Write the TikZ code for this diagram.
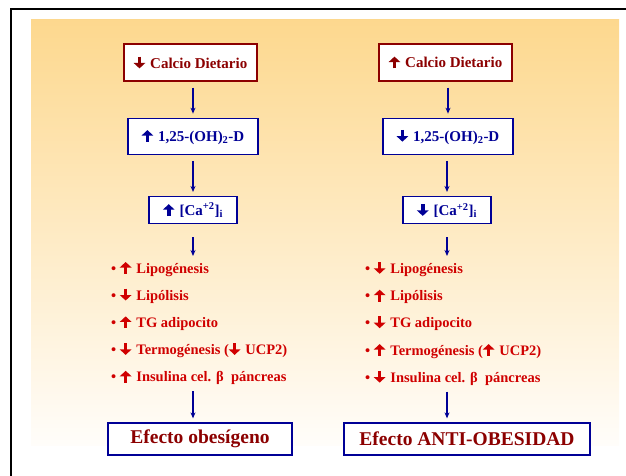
\documentclass[tikz,border=0pt]{standalone}
\usepackage{fontspec}
\setmainfont{Liberation Serif}
\usetikzlibrary{arrows.meta, positioning}
\definecolor{vino}{RGB}{140,0,0}
\definecolor{marino}{RGB}{0,0,150}
\definecolor{rojo}{RGB}{208,0,0}
\definecolor{crema}{RGB}{253,216,142}
\definecolor{blanco}{RGB}{255,253,250}
% flechas gruesas dentro del texto
\newcommand{\sube}{\tikz[baseline=0pt]\draw[line width=3.6pt, -{Triangle[length=5.5pt, width=11.5pt]}] (0,-0.8pt) -- (0,11pt);\hspace{5pt}}
\newcommand{\baja}{\tikz[baseline=0pt]\draw[line width=3.6pt, -{Triangle[length=5.5pt, width=11.5pt]}] (0,11.5pt) -- (0,-0.3pt);\hspace{5pt}}
\tikzset{
    calcbox/.style={
        rectangle,
        draw=vino,
        line width=1.3pt,
        fill=white,
        text=vino,
        font=\bfseries\fontsize{15}{17}\selectfont,
        minimum width=133pt,
        minimum height=37pt,
        inner sep=0pt
    },
    horbox/.style={
        calcbox,
        draw=marino,
        text=marino,
        minimum width=130pt,
        minimum height=36pt
    },
    cabox/.style={
        horbox,
        minimum width=88pt,
        minimum height=27pt
    },
    efbox/.style={
        rectangle,
        draw=marino,
        line width=1.3pt,
        fill=white,
        text=vino,
        font=\bfseries\fontsize{19.5}{22}\selectfont,
        minimum height=32pt
    },
    lista/.style={
        anchor=north west,
        align=left,
        text=rojo,
        inner sep=0pt,
        font=\bfseries\fontsize{14.5}{27.2}\selectfont
    },
    arrow/.style={
        -{Stealth[length=6pt, width=5pt]},
        line width=1.5pt,
        draw=marino,
        shorten <=6pt,
        shorten >=4pt
    }
}
\begin{document}
\begin{tikzpicture}[x=1pt, y=1pt, node distance=36pt]
\useasboundingbox (0,0) rectangle (626,475);
\shade[top color=crema, bottom color=blanco] (31,30) rectangle (619,455);
\draw[line width=2.2pt] (11,-5) |- (640,465.7);

% lado izquierdo
\node[calcbox] (calL) at (190.5,412.5) {\baja Calcio Dietario};
\node[horbox, below=36pt of calL, xshift=2.5pt] (horL) {\sube 1,25-(OH)\textsubscript{2}-D};
\node[cabox, below=41pt of horL] (caL) {\sube [Ca\textsuperscript{+2}]\textsubscript{i}};
\node[lista] (efL) at (111,215) {%
  • \sube Lipogénesis\\
  • \baja Lipólisis\\
  • \sube TG adipocito\\
  • \baja Termogénesis (\baja UCP2)\\
  • \sube Insulina cel. β\ \ páncreas};
\node[efbox, minimum width=184pt] (botL) at (200,36) {Efecto obesígeno};

% lado derecho
\node[calcbox] (calR) at (445.5,412.5) {\sube Calcio Dietario};
\node[horbox, below=36pt of calR, xshift=2.5pt] (horR) {\baja 1,25-(OH)\textsubscript{2}-D};
\node[cabox, below=41pt of horR, xshift=-1pt] (caR) {\baja [Ca\textsuperscript{+2}]\textsubscript{i}};
\node[lista] (efR) at (365,215) {%
  • \baja Lipogénesis\\
  • \sube Lipólisis\\
  • \baja TG adipocito\\
  • \sube Termogénesis (\sube UCP2)\\
  • \baja Insulina cel. β\ \ páncreas};
\node[efbox, minimum width=246pt] (botR) at (467,36) {Efecto ANTI-OBESIDAD};

\draw[arrow] (horL.north |- calL.south) -- (horL.north);
\draw[arrow] (horL) -- (caL);
\draw[arrow, shorten <=13pt] (caL.south) -- (caL.south |- efL.north);
\draw[arrow] (caL.south |- efL.south) -- (caL.south |- botL.north);

\draw[arrow] (horR.north |- calR.south) -- (horR.north);
\draw[arrow] (horR.south -| caR) -- (caR);
\draw[arrow, shorten <=13pt] (caR.south) -- (caR.south |- efR.north);
\draw[arrow] (caR.south |- efR.south) -- (caR.south |- botR.north);
\end{tikzpicture}
\end{document}
